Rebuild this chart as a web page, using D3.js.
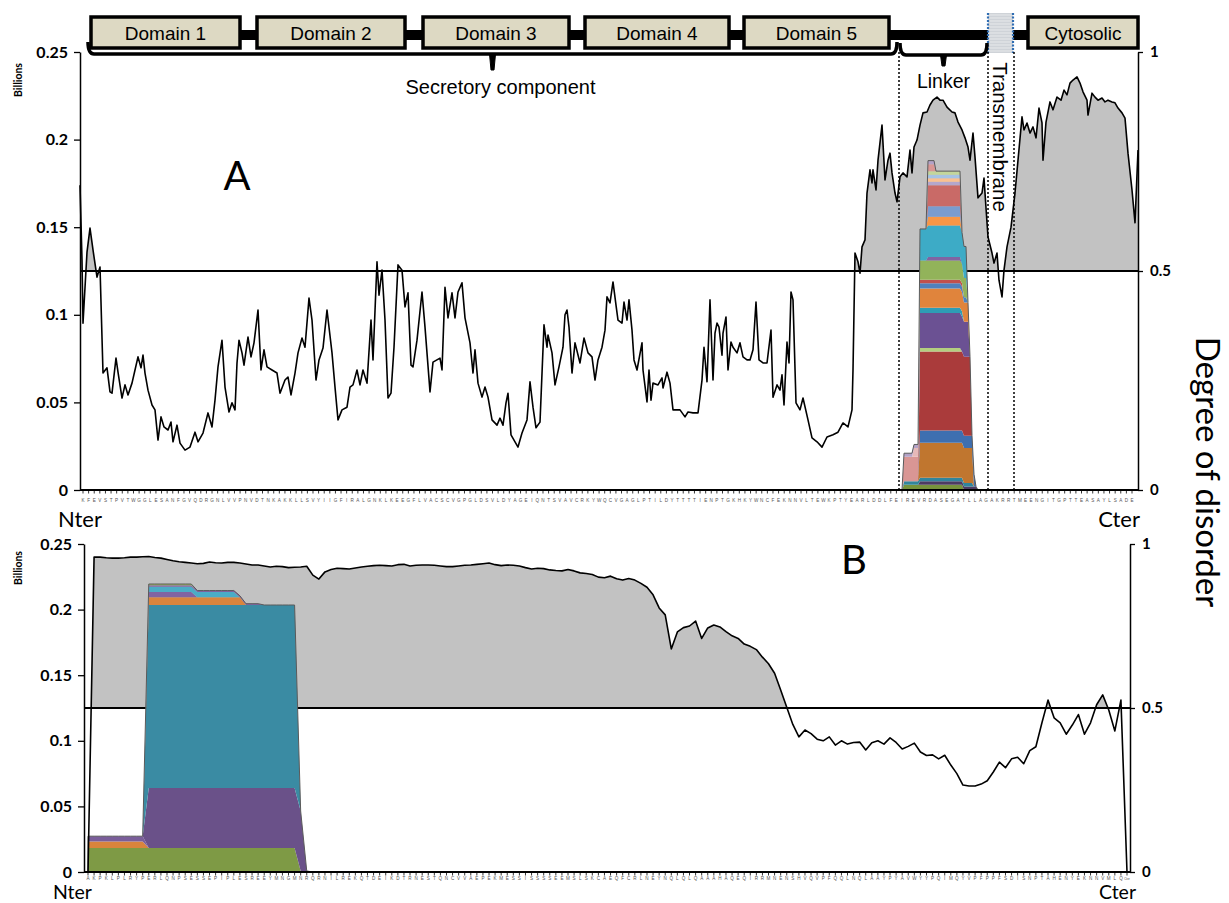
<!DOCTYPE html>
<html>
<head>
<meta charset="utf-8">
<script src="https://cdn.jsdelivr.net/npm/d3@7"></script>
<style>
  body { margin: 0; background: #fff; }
  svg { display: block; }
</style>
</head>
<body>
<svg id="chart" width="1229" height="903"></svg>
<script>
// ---------------- data ----------------
// Panel A: full receptor (residue scale 0..529), panel B: partner protein (one category per residue)
const seqA = "KFEVSTPVTWGGLESANFGVQDRGNLVVPNVDTNKAKKLLSVYIIGFIRALGNKLKEEGFLVACSCVGPGLDSVLDYAGEIQNTSVAVCRKYWQCVGAGLPTILDYTTTTIENPTGKHKYWNCFEKNNVLTEWKPTYEARLDDLFEIREVRDASEGATLLAGAKRRTMEENGITGPTTEASAYLSADE";
const seqB = "AKPKLPLRYPERLQNPSESSEPIPLESREEYMNGMNRQRNILREKQTDEIKDTRNESTQNCVVAEPEKMESSISSSSEEMSLSKCAEQFCRLNEYNQLQLQAAAHAQEQIRRMNENSHVQVPFQQLNQLAAYPYAVWYYPQIMQYVPFPPFSDISNPTAHENYEKNNVMLQ";

const leftTicks = [0, 0.05, 0.1, 0.15, 0.2, 0.25];   // billions
const rightTicks = [0, 0.5, 1];                        // degree of disorder
const disorderCutoff = 0.5;

// [residue, degree of disorder] for panel A
const disorderA = [[0,0.696],[1,0.525],[1.5,0.381],[3.5,0.543],[5,0.598],[6.5,0.548],[8.5,0.486],[10,0.509],[11.5,0.267],[13.5,0.279],[15,0.224],[16,0.221],[18,0.301],[19,0.269],[21,0.210],[22.5,0.240],[24,0.217],[26,0.244],[27.5,0.274],[29,0.304],[30.5,0.279],[31.5,0.308],[32.5,0.267],[34,0.228],[36,0.194],[37.5,0.183],[39,0.114],[40.5,0.167],[42,0.144],[44,0.137],[45.5,0.155],[46.5,0.110],[48.5,0.148],[50,0.107],[52.5,0.091],[55,0.098],[57.5,0.132],[59,0.110],[61.5,0.130],[64,0.176],[66,0.144],[67.5,0.205],[69,0.281],[71,0.342],[72.5,0.235],[74.5,0.178],[76,0.199],[77.5,0.183],[78.5,0.290],[79.5,0.342],[81,0.313],[82,0.285],[84,0.349],[85.5,0.304],[87,0.336],[89,0.411],[90.5,0.274],[92,0.320],[93.5,0.281],[96,0.274],[98.5,0.267],[100,0.221],[102.5,0.251],[104,0.258],[105.5,0.217],[107.5,0.267],[109,0.313],[111,0.347],[112.5,0.326],[114.5,0.438],[116,0.388],[118,0.251],[119.5,0.297],[121.5,0.324],[123.5,0.411],[126,0.313],[127.5,0.235],[129,0.160],[131,0.183],[133.5,0.189],[135,0.235],[136.5,0.240],[138.5,0.274],[140,0.240],[141.5,0.274],[143.5,0.244],[145.5,0.388],[146.5,0.297],[148.5,0.521],[149.5,0.445],[151,0.502],[152.5,0.388],[154,0.210],[155.5,0.221],[157,0.326],[159,0.514],[161,0.502],[162.5,0.418],[164,0.450],[165.5,0.285],[166.5,0.281],[168.5,0.342],[171,0.452],[172.5,0.372],[175,0.224],[176.5,0.292],[180,0.301],[181,0.274],[182.5,0.463],[184,0.393],[186,0.450],[187.5,0.393],[189,0.452],[191,0.473],[192.5,0.393],[195,0.336],[196.5,0.267],[197.5,0.320],[199,0.244],[201,0.212],[202.5,0.235],[204,0.212],[206,0.160],[208.5,0.148],[210,0.164],[211.5,0.148],[213,0.199],[214,0.221],[215.5,0.126],[217.5,0.110],[219,0.098],[221,0.130],[223.5,0.160],[225,0.247],[226.5,0.189],[228,0.142],[230,0.155],[232,0.377],[233.5,0.326],[234,0.354],[236,0.313],[237.5,0.240],[239.5,0.281],[241.5,0.326],[242.5,0.400],[243.5,0.411],[244.5,0.372],[246,0.267],[247.5,0.336],[250,0.290],[252,0.347],[254,0.313],[256,0.304],[257.5,0.251],[259,0.297],[261,0.326],[262.5,0.365],[263.5,0.441],[265,0.427],[266.5,0.475],[268,0.422],[269,0.388],[271,0.381],[272,0.429],[273.5,0.388],[274.5,0.434],[276,0.365],[277,0.297],[278.5,0.274],[281,0.336],[281.5,0.274],[283.5,0.201],[284.5,0.274],[285.5,0.205],[286.5,0.244],[289,0.240],[291,0.256],[291.5,0.233],[293.5,0.269],[295,0.244],[296.5,0.183],[300,0.183],[302.5,0.167],[304,0.178],[306.5,0.176],[309,0.176],[311,0.251],[312,0.326],[313.5,0.247],[315,0.434],[316.5,0.251],[317.5,0.358],[318.5,0.381],[319.5,0.372],[321,0.308],[321.5,0.358],[323,0.395],[324,0.274],[325.5,0.338],[326.5,0.326],[328.5,0.313],[330,0.336],[331.5,0.304],[333.5,0.297],[335,0.297],[336.5,0.320],[338,0.429],[339.5,0.297],[341.5,0.290],[343.5,0.290],[345.5,0.365],[346.5,0.212],[348.5,0.240],[350,0.228],[351,0.263],[352,0.194],[353.5,0.338],[354.5,0.290],[355.5,0.452],[356.5,0.434],[358,0.199],[360,0.183],[361.5,0.210],[364,0.160],[366,0.119],[368.5,0.110],[371,0.098],[373.5,0.121],[376.5,0.126],[379,0.132],[381.5,0.153],[384,0.144],[386,0.183],[386.5,0.274],[387.5,0.541],[389,0.521],[390,0.495],[391,0.555],[392.5,0.571],[393.5,0.678],[395,0.731],[396,0.701],[396.5,0.731],[398,0.685],[399,0.753],[401,0.833],[402.5,0.708],[404,0.753],[405,0.769],[406,0.724],[407.5,0.678],[408.5,0.658],[410,0.715],[411.5,0.724],[413.5,0.715],[415,0.776],[416,0.724],[417,0.783],[418.5,0.799],[420,0.833],[421.5,0.861],[423.5,0.863],[425,0.879],[426.5,0.890],[428.5,0.897],[430,0.890],[431.5,0.890],[433.5,0.874],[436,0.863],[437.5,0.861],[439,0.840],[441,0.822],[442.5,0.804],[444,0.783],[445,0.753],[446.5,0.815],[447.5,0.760],[449,0.667],[451,0.678],[452,0.712],[453,0.644],[454,0.578],[456,0.541],[457,0.518],[458.5,0.541],[459.5,0.479],[461,0.441],[462,0.502],[463.5,0.555],[465.5,0.600],[467.5,0.678],[469,0.753],[471,0.852],[472,0.822],[473.5,0.838],[475,0.815],[476.5,0.829],[478,0.804],[479.5,0.872],[481,0.838],[481.5,0.753],[483,0.840],[485,0.886],[486.5,0.868],[488.5,0.897],[490.5,0.890],[492,0.913],[493.5,0.902],[495,0.929],[496.5,0.936],[498.5,0.943],[500,0.929],[501.5,0.909],[503.5,0.890],[504,0.856],[506,0.906],[507.5,0.897],[509,0.890],[511,0.895],[512.5,0.886],[514,0.890],[516,0.886],[517.5,0.884],[519,0.872],[521,0.861],[522.5,0.849],[524,0.769],[526,0.685],[527.5,0.610],[529,0.776]];

// degree of disorder per residue of panel B (last category = C-terminus)
const disorderB = [0,0.960,0.960,0.958,0.957,0.957,0.958,0.960,0.960,0.961,0.962,0.959,0.957,0.953,0.949,0.946,0.944,0.942,0.940,0.941,0.945,0.943,0.942,0.944,0.944,0.942,0.939,0.936,0.936,0.933,0.930,0.932,0.931,0.928,0.929,0.930,0.932,0.905,0.893,0.915,0.922,0.926,0.925,0.924,0.927,0.930,0.932,0.934,0.935,0.934,0.933,0.937,0.938,0.933,0.935,0.936,0.936,0.935,0.933,0.931,0.931,0.933,0.935,0.936,0.938,0.940,0.942,0.937,0.934,0.936,0.935,0.933,0.928,0.924,0.926,0.925,0.921,0.919,0.918,0.922,0.918,0.912,0.910,0.907,0.899,0.897,0.902,0.894,0.890,0.895,0.890,0.880,0.868,0.845,0.805,0.784,0.680,0.732,0.745,0.750,0.765,0.712,0.744,0.753,0.747,0.733,0.720,0.712,0.695,0.688,0.678,0.655,0.635,0.606,0.555,0.502,0.450,0.412,0.433,0.422,0.405,0.400,0.412,0.387,0.400,0.390,0.395,0.396,0.372,0.394,0.400,0.390,0.409,0.395,0.375,0.383,0.393,0.366,0.355,0.357,0.345,0.356,0.326,0.300,0.265,0.262,0.262,0.268,0.278,0.305,0.335,0.318,0.345,0.350,0.330,0.370,0.382,0.455,0.524,0.470,0.455,0.420,0.448,0.480,0.420,0.455,0.510,0.540,0.494,0.430,0.524,0];

// peptide abundances, billions: [first residue, last residue, amount]
const peptidesA = [
  [412, 441, 0.003], [420, 448, 0.002], [412, 446, 0.002], [420, 446, 0.020],
  [420, 447, 0.007], [420, 445, 0.045], [420, 440, 0.002], [420, 444, 0.020],
  [420, 441, 0.003], [420, 444, 0.011], [420, 443, 0.003], [420, 441, 0.002],
  [420, 443, 0.011], [424, 440, 0.002], [420, 443, 0.018], [424, 440, 0.005],
  [424, 440, 0.006], [424, 440, 0.012], [424, 440, 0.002], [424, 440, 0.002],
  [424, 440, 0.002], [424, 440, 0.002], [412, 419, 0.014], [417, 419, 0.005],
  [412, 419, 0.002], [424, 427, 0.004], [424, 427, 0.002]
];
const peptidesB = [
  [0, 36, 0.0008], [0, 34, 0.0175], [0, 9, 0.005], [0, 9, 0.004],
  [10, 35, 0.0457], [10, 34, 0.1395], [10, 25, 0.006], [10, 17, 0.004],
  [10, 24, 0.004], [10, 28, 0.001], [10, 17, 0.001]
];

// receptor architecture (residue scale of panel A)
const domainNames = ["Domain 1", "Domain 2", "Domain 3", "Domain 4", "Domain 5"];
const domainStart = [5.5, 88.5, 171.5, 252.5, 332];
const domainEnd   = [80, 162.5, 244.5, 324.5, 404.5];
const tmSpan = [454, 466.5];
const cytoSpan = [474, 529];
const secretorySpan = [4, 408.5];
const linkerSpan = [410, 453.5];
const boundaries = [409.5, 454, 467];

// ---------------- styles ----------------
const paletteA = ["#77933C","#4D3B62","#31859C","#C0762F","#3E6FB0","#AA3B3B","#B3CF80","#6B5193",
  "#2E9DB5","#E0843C","#4F81BD","#C0504D","#92B35A","#8064A2","#3DABC6","#F79646","#7A9CCF",
  "#C96A67","#B4A7CC","#FAC090","#A6C3E4","#C3D69B","#D99694","#E6B9B8","#B3A2C7","#D99694","#B3A2C7"];
const paletteB = ["#C0504D","#7E9A45","#D9843D","#7A5E9A","#6A5189","#3A8BA3","#D9843D","#8064A2",
  "#4BACC6","#8064A2","#9BBB59"];
const greyFill = "#c2c2c2";
const tickFont = "Lato, 'Open Sans', sans-serif";
const boxFont = "'Liberation Sans', Arial, sans-serif";

const svg = d3.select("#chart");
const fmt = d3.format("~g");

// ---------------- scales ----------------
const panelA = {
  x: d3.scaleLinear().domain([0, 529]).range([80, 1138]),
  yL: d3.scaleLinear().domain([0, 0.25]).range([490, 52]),
  yR: d3.scaleLinear().domain([0, 1]).range([490, 52]),
  id: "A"
};
const panelB = {
  x: d3.scaleLinear().domain([0, seqB.length]).range([88, 1127]),
  yL: d3.scaleLinear().domain([0, 0.25]).range([872, 544]),
  yR: d3.scaleLinear().domain([0, 1]).range([872, 544]),
  id: "B"
};
const axisLeftX = { A: 80, B: 84 };
const axisRightX = { A: 1138, B: 1130 };

function stackTable(peptides, lo, hi) {
  const rows = [];
  for (let r = lo; r <= hi; r++) {
    const row = { r };
    peptides.forEach((p, i) => { row["p" + i] = (r >= p[0] && r <= p[1]) ? p[2] : 0; });
    rows.push(row);
  }
  return rows;
}

function drawPanel(P, points, peptides, palette, stackRange) {
  const g = svg.append("g");
  const xl = axisLeftX[P.id], xr = axisRightX[P.id];
  const y0 = P.yR(0), yTop = P.yR(1), yCut = P.yR(disorderCutoff);

  // grey fill where disorder exceeds the cutoff
  const clipId = "clip" + P.id;
  svg.append("clipPath").attr("id", clipId)
    .append("rect").attr("x", xl).attr("y", yTop - 20).attr("width", xr - xl).attr("height", yCut - yTop + 20);
  const area = d3.area().x(d => P.x(d[0])).y0(yCut).y1(d => P.yR(d[1]));
  g.append("path").datum(points).attr("d", area)
    .attr("fill", greyFill).attr("clip-path", `url(#${clipId})`);

  // cutoff line
  g.append("line").attr("x1", xl).attr("x2", xr).attr("y1", yCut).attr("y2", yCut)
    .attr("stroke", "#000").attr("stroke-width", 2);

  // stacked peptide abundances
  const rows = stackTable(peptides, stackRange[0], stackRange[1]);
  const keys = peptides.map((p, i) => "p" + i);
  const series = d3.stack().keys(keys)(rows);
  const sArea = d3.area().x(d => P.x(d.data.r)).y0(d => P.yL(d[0])).y1(d => P.yL(d[1]));
  g.selectAll(".layer").data(series).join("path")
    .attr("d", sArea).attr("fill", (d, i) => palette[i]);
  const top = series[series.length - 1];
  const outline = d3.area().x(d => P.x(d.data.r)).y0(P.yL(0)).y1(d => P.yL(d[1]));
  g.append("path").datum(top).attr("d", outline)
    .attr("fill", "none").attr("stroke", "#5a5a5a").attr("stroke-width", 1);

  // disorder profile
  const line = d3.line().x(d => P.x(d[0])).y(d => P.yR(d[1]));
  g.append("path").datum(points).attr("d", line)
    .attr("fill", "none").attr("stroke", "#000").attr("stroke-width", 1.6).attr("stroke-linejoin", "round");

  // axes
  const la = g.append("g").attr("transform", `translate(${xl},0)`)
    .call(d3.axisLeft(P.yL).tickValues(leftTicks).tickSize(6).tickSizeOuter(0).tickFormat(fmt));
  const ra = g.append("g").attr("transform", `translate(${xr},0)`)
    .call(d3.axisRight(P.yR).tickValues(rightTicks).tickSize(5).tickSizeOuter(0).tickFormat(fmt));
  [la, ra].forEach(a => {
    a.select(".domain").attr("stroke", "#000").attr("stroke-width", 1.5);
    a.selectAll(".tick line").attr("stroke", "#000").attr("stroke-width", 1.3);
    a.selectAll(".tick text").attr("font-family", tickFont).attr("font-weight", "bold")
      .attr("font-size", 16).attr("fill", "#000");
  });
  ra.selectAll(".tick text").attr("x", 12).attr("font-size", 15);
  la.selectAll(".tick text").attr("x", -12);

  g.append("line").attr("x1", xl).attr("x2", xr).attr("y1", y0).attr("y2", y0)
    .attr("stroke", "#000").attr("stroke-width", 1.8);

  g.append("text").attr("transform", `translate(22,${P.id === "A" ? 80 : 568}) rotate(-90)`)
    .attr("text-anchor", "middle").attr("font-family", tickFont).attr("font-weight", "bold")
    .attr("font-size", 10.5).text("Billions");
  return g;
}

// ---------------- panel A ----------------
const gA = drawPanel(panelA, disorderA, peptidesA, paletteA, [405, 455]);
const labA = d3.scalePoint().domain(d3.range(seqA.length)).range([83, 1132]);
gA.append("g").selectAll("line").data(d3.range(seqA.length)).join("line")
  .attr("x1", d => labA(d)).attr("x2", d => labA(d)).attr("y1", 490).attr("y2", 493.5)
  .attr("stroke", "#000").attr("stroke-width", 0.8);
gA.append("g").selectAll("text").data(seqA.split("")).join("text")
  .attr("x", (d, i) => labA(i)).attr("y", 502).attr("text-anchor", "middle")
  .attr("font-family", boxFont).attr("font-size", 4.6).attr("fill", "#555").text(d => d);

// ---------------- panel B ----------------
const gB = drawPanel(panelB, disorderB.map((v, i) => [i, v]), peptidesB, paletteB, [0, 40]);
const catsB = seqB.split("").concat(["Cter"]);
gB.append("g").selectAll("line").data(d3.range(catsB.length)).join("line")
  .attr("x1", d => panelB.x(d)).attr("x2", d => panelB.x(d)).attr("y1", 872).attr("y2", 875.5)
  .attr("stroke", "#000").attr("stroke-width", 0.8);
gB.append("g").selectAll("text").data(catsB).join("text")
  .attr("x", (d, i) => panelB.x(i)).attr("y", 879.5).attr("text-anchor", "middle")
  .attr("font-family", boxFont).attr("font-size", d => d.length > 1 ? 3 : 4.6).attr("fill", "#555").text(d => d);

// ---------------- annotations ----------------
function label(x, y, txt, size, opts = {}) {
  return svg.append("text").attr("x", x).attr("y", y).text(txt)
    .attr("font-family", opts.family || tickFont).attr("font-size", size)
    .attr("text-anchor", opts.anchor || "start").attr("fill", "#000");
}
label(58, 527, "Nter", 22);
label(1140, 527, "Cter", 22, { anchor: "end" });
label(53, 898.5, "Nter", 19.5);
label(1136, 898.5, "Cter", 19.5, { anchor: "end" });
label(237, 190, "A", 40, { anchor: "middle" });
label(854, 574, "B", 40, { anchor: "middle" });
svg.append("text").attr("transform", "translate(1196,472) rotate(90)").attr("text-anchor", "middle")
  .attr("font-family", tickFont).attr("font-size", 33).text("Degree of disorder");

// receptor architecture bar
const xA = panelA.x;
const bar = svg.append("g");
bar.append("rect").attr("x", xA(domainStart[0])).attr("y", 30)
  .attr("width", xA(cytoSpan[0]) - xA(domainStart[0])).attr("height", 10).attr("fill", "#000");
domainNames.forEach((n, i) => {
  bar.append("rect").attr("x", xA(domainStart[i])).attr("y", 17)
    .attr("width", xA(domainEnd[i]) - xA(domainStart[i])).attr("height", 31)
    .attr("fill", "#ddd9c3").attr("stroke", "#000").attr("stroke-width", 3.5);
  bar.append("text").attr("x", (xA(domainStart[i]) + xA(domainEnd[i])) / 2).attr("y", 39.5)
    .attr("text-anchor", "middle").attr("font-family", boxFont).attr("font-size", 19).text(n);
});
bar.append("rect").attr("x", xA(cytoSpan[0])).attr("y", 17)
  .attr("width", xA(cytoSpan[1]) - xA(cytoSpan[0])).attr("height", 31)
  .attr("fill", "#ddd9c3").attr("stroke", "#000").attr("stroke-width", 3.5);
bar.append("text").attr("x", (xA(cytoSpan[0]) + xA(cytoSpan[1])) / 2).attr("y", 39.5)
  .attr("text-anchor", "middle").attr("font-family", boxFont).attr("font-size", 19).text("Cytosolic");
// transmembrane segment
bar.append("rect").attr("x", xA(tmSpan[0])).attr("y", 13)
  .attr("width", xA(tmSpan[1]) - xA(tmSpan[0])).attr("height", 40).attr("fill", "#cfd3d8");
for (let yy = 15; yy < 53; yy += 3) {
  bar.append("line").attr("x1", xA(tmSpan[0])).attr("x2", xA(tmSpan[1])).attr("y1", yy).attr("y2", yy)
    .attr("stroke", "#e8eaec").attr("stroke-width", 1);
}
[tmSpan[0], tmSpan[1]].forEach(p => {
  bar.append("line").attr("x1", xA(p)).attr("x2", xA(p)).attr("y1", 13).attr("y2", 53)
    .attr("stroke", "#2f6db3").attr("stroke-width", 2.2).attr("stroke-dasharray", "2,1.5");
});

// braces
function brace(a, b, yb, stubX, stubY) {
  const p = d3.path();
  p.moveTo(a, yb - 12); p.quadraticCurveTo(a, yb, a + 6, yb);
  p.lineTo(b - 6, yb); p.quadraticCurveTo(b, yb, b, yb - 12);
  bar.append("path").attr("d", p.toString()).attr("fill", "none").attr("stroke", "#000")
    .attr("stroke-width", 3.5);
  bar.append("path").attr("d", `M${stubX - 3},${yb} L${stubX + 3},${yb} L${stubX + 1.5},${stubY} L${stubX - 1.5},${stubY} Z`)
    .attr("fill", "#000").attr("stroke", "#000").attr("stroke-width", 1);
}
brace(xA(secretorySpan[0]), xA(secretorySpan[1]), 54, xA((secretorySpan[0] + secretorySpan[1]) / 2), 70);
brace(xA(linkerSpan[0]), xA(linkerSpan[1]), 55, xA((linkerSpan[0] + linkerSpan[1]) / 2), 66);
label(xA((secretorySpan[0] + secretorySpan[1]) / 2) + 8, 94, "Secretory component", 20, { family: boxFont, anchor: "middle" });
label(xA((linkerSpan[0] + linkerSpan[1]) / 2), 88, "Linker", 19.5, { family: boxFont, anchor: "middle" });
svg.append("text").attr("transform", `translate(${(xA(tmSpan[0]) + xA(tmSpan[1])) / 2 - 8},137) rotate(90)`)
  .attr("text-anchor", "middle").attr("font-family", boxFont).attr("font-size", 20.5).text("Transmembrane");

// region boundaries
boundaries.forEach(p => {
  svg.append("line").attr("x1", xA(p)).attr("x2", xA(p)).attr("y1", 52).attr("y2", 490)
    .attr("stroke", "#000").attr("stroke-width", 1.5).attr("stroke-dasharray", "2,2");
});
</script>
</body>
</html>
